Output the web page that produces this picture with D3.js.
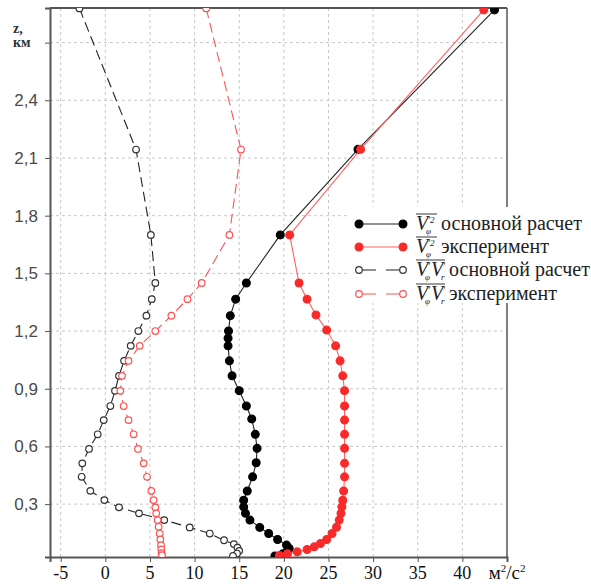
<!DOCTYPE html>
<html>
<head>
<meta charset="utf-8">
<script src="https://cdn.jsdelivr.net/npm/d3@7"></script>
</head>
<body style="margin:0">
<div id="chart"></div>
<script>
// heights, km
var zCalcSq = [2.87, 2.145, 1.70, 1.45, 1.366, 1.28, 1.20, 1.163, 1.123, 1.045, 0.967, 0.89, 0.81, 0.743, 0.663, 0.59, 0.515, 0.442, 0.368, 0.32, 0.286, 0.252, 0.217, 0.179, 0.147, 0.116, 0.087, 0.069, 0.055, 0.042, 0.03];
var vCalcSq = [43.6, 28.3, 19.6, 15.8, 14.6, 14.0, 13.8, 13.75, 13.75, 13.9, 14.2, 15.0, 15.8, 16.4, 16.8, 17.0, 16.9, 16.5, 15.9, 15.5, 15.5, 15.7, 16.2, 17.3, 18.3, 19.3, 20.3, 20.6, 20.4, 19.9, 19.0];

var zExpSq = [2.87, 2.145, 1.70, 1.45, 1.366, 1.284, 1.205, 1.123, 1.045, 0.967, 0.89, 0.81, 0.737, 0.663, 0.59, 0.512, 0.442, 0.368, 0.32, 0.286, 0.252, 0.217, 0.18, 0.147, 0.116, 0.095, 0.078, 0.064, 0.052, 0.042, 0.033];
var vExpSq = [42.4, 28.6, 20.65, 21.7, 22.6, 23.6, 24.8, 25.8, 26.3, 26.6, 26.8, 26.8, 26.8, 26.8, 26.8, 26.8, 26.8, 26.7, 26.6, 26.5, 26.4, 26.2, 25.9, 25.4, 24.8, 24.1, 23.4, 22.6, 21.5, 20.4, 19.5];

var zCalcCross = [2.878, 2.144, 1.70, 1.45, 1.366, 1.28, 1.20, 1.123, 1.045, 0.967, 0.889, 0.81, 0.737, 0.663, 0.587, 0.512, 0.442, 0.369, 0.321, 0.283, 0.252, 0.217, 0.179, 0.147, 0.112, 0.092, 0.074, 0.057, 0.043, 0.031];
var vCalcCross = [-2.9, 3.44, 5.1, 5.6, 5.2, 4.6, 3.7, 2.84, 2.1, 1.53, 1.08, 0.56, -0.18, -0.86, -1.83, -2.58, -2.65, -1.68, -0.11, 1.53, 3.77, 6.6, 9.45, 11.7, 13.3, 14.4, 14.8, 15.0, 14.75, 14.3];

var zExpCross = [2.878, 2.144, 1.70, 1.45, 1.366, 1.28, 1.20, 1.123, 1.045, 0.967, 0.889, 0.81, 0.737, 0.663, 0.587, 0.512, 0.442, 0.369, 0.321, 0.283, 0.252, 0.217, 0.182, 0.147, 0.116, 0.086, 0.064, 0.045, 0.034];
var vExpCross = [11.3, 15.2, 13.9, 10.8, 9.2, 7.4, 5.6, 3.85, 2.6, 1.87, 1.68, 2.05, 2.6, 3.17, 3.66, 4.3, 4.67, 5.15, 5.4, 5.6, 5.7, 5.86, 5.97, 6.1, 6.16, 6.24, 6.27, 6.3, 6.35];

var xTicks = [-5, 0, 5, 10, 15, 20, 25, 30, 35, 40, 45];
var yTicks = [0.3, 0.6, 0.9, 1.2, 1.5, 1.8, 2.1, 2.4, 2.7];
var yTickLabels = ["0,3", "0,6", "0,9", "1,2", "1,5", "1,8", "2,1", "2,4", ""];

var w = 591, h = 587;
var mLeft = 50, mRight = 507, mTop = 8, mBottom = 557;

var svg = d3.select("#chart").append("svg")
    .attr("width", w)
    .attr("height", h);

var x = d3.scaleLinear().domain([-6.2, 45]).range([mLeft, mRight]);
var y = d3.scaleLinear().domain([0.025, 2.88]).range([mBottom, mTop]);

// grid
svg.append("g").selectAll("line")
    .data(xTicks.slice(0, -1))
    .enter().append("line")
    .attr("x1", function (d) { return x(d); })
    .attr("x2", function (d) { return x(d); })
    .attr("y1", mTop).attr("y2", mBottom)
    .attr("stroke", "#c8c8c8")
    .attr("stroke-dasharray", "3,3");

svg.append("g").selectAll("line")
    .data(yTicks)
    .enter().append("line")
    .attr("y1", function (d) { return y(d); })
    .attr("y2", function (d) { return y(d); })
    .attr("x1", mLeft).attr("x2", mRight)
    .attr("stroke", "#c8c8c8")
    .attr("stroke-dasharray", "3,3");

// frame
svg.append("line").attr("x1", mLeft).attr("x2", mRight).attr("y1", mTop).attr("y2", mTop)
    .attr("stroke", "#555").attr("stroke-width", 2);
svg.append("line").attr("x1", mRight).attr("x2", mRight).attr("y1", mTop).attr("y2", mBottom)
    .attr("stroke", "#555").attr("stroke-width", 1.5);

// axes, tick labels drawn by hand so the font is not inherited from the axis group
var xAxis = d3.axisBottom(x).tickValues(xTicks).tickSize(5).tickFormat("");
var gx = svg.append("g").attr("transform", "translate(0," + mBottom + ")").call(xAxis);
gx.select(".domain").attr("stroke", "#555").attr("stroke-width", 2);
gx.selectAll(".tick line").attr("stroke", "#555");

svg.selectAll(".xlab")
    .data(xTicks.slice(0, -1))
    .enter().append("text")
    .attr("class", "xlab")
    .attr("x", function (d) { return x(d); })
    .attr("y", 579)
    .attr("text-anchor", "middle")
    .style("font-family", "'Liberation Serif'")
    .attr("font-size", "18px")
    .attr("fill", "#111")
    .text(function (d) { return d; });

var yAxis = d3.axisLeft(y).tickValues(yTicks).tickSize(5).tickFormat("");
var gy = svg.append("g").attr("transform", "translate(" + mLeft + ",0)").call(yAxis);
gy.select(".domain").attr("stroke", "#555").attr("stroke-width", 2);
gy.selectAll(".tick line").attr("stroke", "#555");

svg.selectAll(".ylab")
    .data(yTicks)
    .enter().append("text")
    .attr("class", "ylab")
    .attr("x", 38)
    .attr("y", function (d) { return y(d) + 6; })
    .attr("text-anchor", "end")
    .style("font-family", "'Liberation Sans'")
    .attr("font-size", "17px")
    .attr("fill", "#4a4a4a")
    .text(function (d, i) { return yTickLabels[i]; });

// axis titles
var unit = svg.append("text")
    .attr("x", x(45)).attr("y", 579)
    .attr("text-anchor", "middle")
    .style("font-family", "'Liberation Serif'")
    .attr("font-size", "19px")
    .attr("fill", "#111");
unit.append("tspan").text("м");
unit.append("tspan").attr("font-size", "11px").attr("dy", -7).text("2");
unit.append("tspan").attr("dy", 7).text("/с");
unit.append("tspan").attr("font-size", "11px").attr("dy", -7).text("2");

svg.append("text").attr("x", 13).attr("y", 33)
    .style("font-family", "'Liberation Serif'").attr("font-size", "14px")
    .attr("font-weight", "bold").attr("fill", "#333").text("z,");
svg.append("text").attr("x", 13).attr("y", 47)
    .style("font-family", "'Liberation Serif'").attr("font-size", "14px")
    .attr("font-weight", "bold").attr("fill", "#333").text("км");

// data
svg.append("clipPath").attr("id", "plot-clip")
    .append("rect").attr("x", mLeft).attr("y", mTop).attr("width", mRight - mLeft).attr("height", mBottom - mTop);
var plot = svg.append("g").attr("clip-path", "url(#plot-clip)");

var series = [
    { z: zCalcCross, v: vCalcCross, line: "#222", dash: "10,5", width: 1.1, fill: "#fff", stroke: "#333", r: 3.3 },
    { z: zExpCross, v: vExpCross, line: "#ff5252", dash: "10,5", width: 1.1, fill: "#fff", stroke: "#ff5050", r: 3.3 },
    { z: zCalcSq, v: vCalcSq, line: "#222", dash: null, width: 1.1, fill: "#000", stroke: "#000", r: 3.9 },
    { z: zExpSq, v: vExpSq, line: "#ff6262", dash: null, width: 1.1, fill: "#fa2a2a", stroke: "#fa2a2a", r: 3.9 }
];

var line = d3.line()
    .x(function (d) { return x(d[1]); })
    .y(function (d) { return y(d[0]); });

series.forEach(function (s) {
    var pts = d3.zip(s.z, s.v);
    plot.append("path")
        .datum(pts)
        .attr("d", line)
        .attr("fill", "none")
        .attr("stroke", s.line)
        .attr("stroke-width", s.width)
        .attr("stroke-dasharray", s.dash);
    plot.selectAll(null)
        .data(pts)
        .enter().append("circle")
        .attr("cx", function (d) { return x(d[1]); })
        .attr("cy", function (d) { return y(d[0]); })
        .attr("r", s.r)
        .attr("fill", s.fill)
        .attr("stroke", s.stroke)
        .attr("stroke-width", 1.2);
});

// legend
svg.append("rect").attr("x", 350).attr("y", 207).attr("width", 241).attr("height", 96).attr("fill", "#fff");

var legendRows = [
    { s: series[2], y: 224, sym: "sq", text: "основной расчет" },
    { s: series[3], y: 247, sym: "sq", text: "эксперимент" },
    { s: series[0], y: 270, sym: "cross", text: "основной расчет" },
    { s: series[1], y: 294, sym: "cross", text: "эксперимент" }
];

function addText(tx, ty, size, italic, str) {
    return svg.append("text").attr("x", tx).attr("y", ty)
        .style("font-family", "'Liberation Serif'")
        .attr("font-size", size + "px")
        .attr("font-style", italic ? "italic" : null)
        .attr("fill", "#222")
        .text(str);
}

legendRows.forEach(function (row) {
    var s = row.s;
    svg.append("line")
        .attr("x1", 359).attr("x2", 403).attr("y1", row.y).attr("y2", row.y)
        .attr("stroke", s.line).attr("stroke-width", s.width)
        .attr("stroke-dasharray", s.dash ? "17,10,17" : null);
    [359, 403].forEach(function (cx) {
        svg.append("circle").attr("cx", cx).attr("cy", row.y).attr("r", s.r)
            .attr("fill", s.fill).attr("stroke", s.stroke).attr("stroke-width", 1.2);
    });

    var tx = 416, base = row.y + 6, symW;
    if (row.sym === "sq") {
        addText(tx, base, 20, true, "V");
        addText(tx + 12, base - 7, 9, true, "′2");
        addText(tx + 10, base + 4, 9, true, "φ");
        symW = 21;
    } else {
        addText(tx, base, 20, true, "V");
        addText(tx + 12, base - 7, 9, true, "′");
        addText(tx + 9, base + 4, 9, true, "φ");
        addText(tx + 15, base, 20, true, "V");
        addText(tx + 27, base - 7, 9, true, "′");
        addText(tx + 25, base + 4, 9, true, "r");
        symW = 29;
    }
    svg.append("line").attr("x1", tx).attr("x2", tx + symW).attr("y1", base - 16).attr("y2", base - 16)
        .attr("stroke", "#222").attr("stroke-width", 0.9);
    addText(tx + symW + 4, base, 20, false, row.text);
});
</script>
</body>
</html>
